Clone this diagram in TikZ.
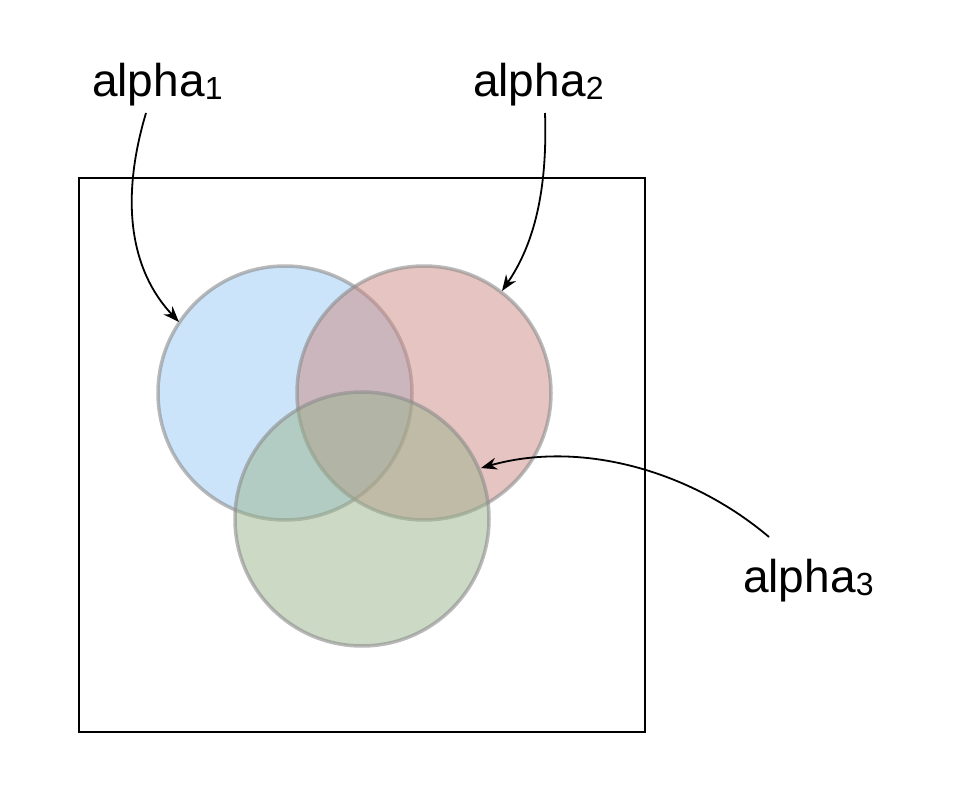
\documentclass[tikz,border=0pt]{standalone}
\usepackage{fontspec}
\setmainfont{Liberation Sans}
\usetikzlibrary{arrows.meta}
\definecolor{vblue}{RGB}{153,201,245}
\definecolor{vpink}{RGB}{205,137,131}
\definecolor{vgreen}{RGB}{153,180,140}
\definecolor{vedge}{RGB}{140,140,140}
\newcommand{\labsub}[1]{{\fontsize{32}{34}\selectfont\raisebox{-3pt}{#1}}}
\begin{document}
\begin{tikzpicture}[x=1pt,y=-1pt,
  venn/.style={circle,inner sep=0pt,outer sep=0pt,minimum size=254pt,
    line width=3.5pt,draw=vedge,draw opacity=0.6,fill opacity=0.5},
  lab/.style={anchor=base west,inner sep=0pt,font=\fontsize{46}{55}\selectfont},
  conn/.style={line width=1.8pt,-{Stealth[length=16pt,width=12pt]}},
  frame/.style={draw=black,line width=2pt}]
\useasboundingbox (0,0) rectangle (962,794);
\node[frame,minimum width=566pt,minimum height=554pt,inner sep=0pt,outer sep=0pt] (box) at (362,455) {};
\node[venn,fill=vblue] (c1) at (285,393) {};
\node[venn,fill=vpink] (c2) at (424,393) {};
\node[venn,fill=vgreen] (c3) at (362,519) {};
\node[lab] (l1) at (92,97) {alpha\labsub{1}};
\node[lab] (l2) at (473,97) {alpha\labsub{2}};
\node[lab] (l3) at (743,592) {alpha\labsub{3}};
\coordinate (s1) at (146,113);
\coordinate (s2) at (545,113);
\coordinate (s3) at (769,537);
\coordinate (t1) at (179,322);
\coordinate (t2) at (502,291);
\coordinate (t3) at (481,468);
\draw[conn] (s1) .. controls (120,200) and (130,270) .. (t1);
\draw[conn] (s2) .. controls (548,200) and (530,250) .. (t2);
\draw[conn] (s3) .. controls (690,470) and (580,440) .. (t3);
\end{tikzpicture}
\end{document}
